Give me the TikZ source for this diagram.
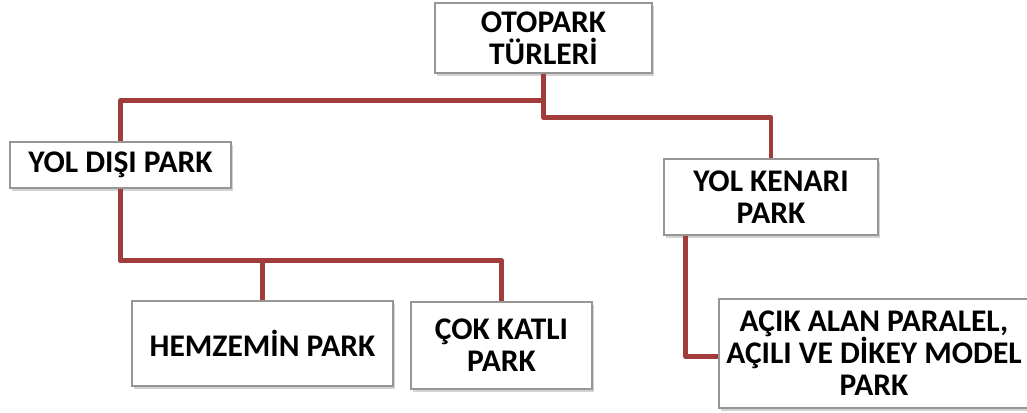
\documentclass[tikz,border=0pt]{standalone}
\usepackage{fontspec}
\setmainfont{Carlito}
\usepackage{tikz}
\definecolor{linkred}{RGB}{160,60,58}
\definecolor{boxgray}{RGB}{150,150,150}
\usetikzlibrary{positioning}
\usetikzlibrary{shadows}
\tikzset{box/.style={rectangle,draw=boxgray,line width=1.2pt,fill=white,align=center,inner sep=0pt,font=\fontsize{31.5}{32}\selectfont\bfseries,drop shadow={opacity=0.35,shadow xshift=1.5pt,shadow yshift=-3pt}}}
\tikzset{link/.style={linkred,line width=4.5pt,line join=round}}

\begin{document}
\begin{tikzpicture}[x=1pt,y=-1pt]
  \useasboundingbox (0,0) rectangle (1027,412);

  % Boxes
  \node[box,minimum width=217pt,minimum height=70pt] (turler) at (543.5,38) {OTOPARK\\T\"URLER\.I};
  \node[box,minimum width=221pt,minimum height=46pt] (yoldisi) at (120.5,165) {YOL DIŞI PARK};
  \node[box,minimum width=214pt,minimum height=76pt] (yolkenari) at (771,197) {YOL KENARI\\PARK};
  \node[box,minimum width=261pt,minimum height=85pt] (hemzemin) at (262.5,343.5) {HEMZEM\.IN PARK};
  \node[box,minimum width=181pt,minimum height=87pt] (cokkatli) at (501.5,345.5) {ÇOK KATLI\\PARK};
  \node[box,minimum width=310pt,minimum height=109pt] (acikalan) at (874,353.5) {AÇIK ALAN PARALEL,\\AÇILI VE D\.IKEY MODEL\\PARK};

  % Links
  \draw[link] (turler.south) -- ++(0,27) -| (yoldisi.north);
  \draw[link] (turler.south) -- ++(0,44) -| (yolkenari.north);
  \draw[link] (yoldisi.south) -- ++(0,72) -| (hemzemin.north);
  \draw[link] (yoldisi.south) -- ++(0,72) -| (cokkatli.north);
  \draw[link] ([xshift=22pt]yolkenari.south west) |- ([yshift=-3pt]acikalan.west);
\end{tikzpicture}
\end{document}
